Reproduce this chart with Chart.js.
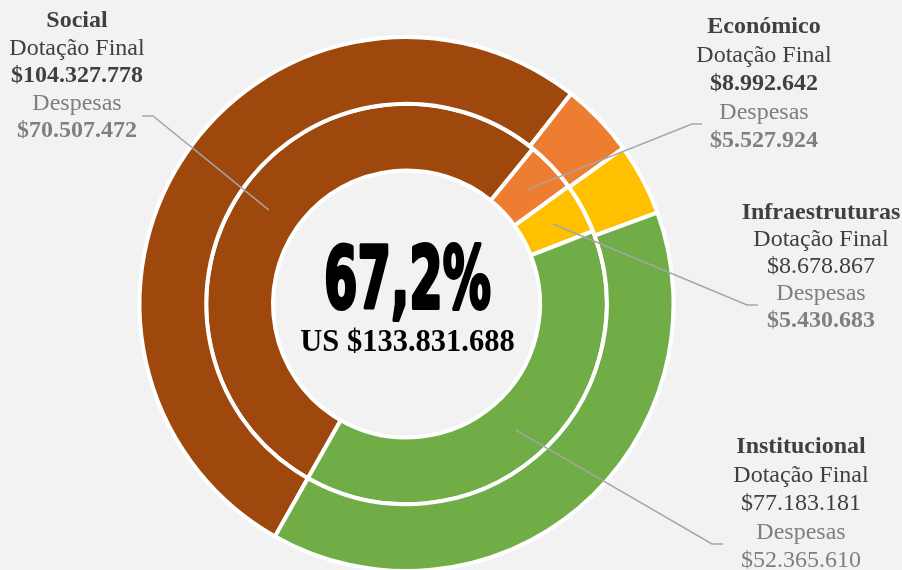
<!DOCTYPE html>
<html>
<head>
<meta charset="utf-8">
<script src="https://cdn.jsdelivr.net/npm/chart.js@4.4.1/dist/chart.umd.min.js"></script>
<style>
  html, body { margin: 0; padding: 0; background: #f2f2f2; overflow: hidden; }
  #wrap { width: 902px; height: 573px; }
</style>
</head>
<body>
<div id="wrap"><canvas id="c" width="902" height="573"></canvas></div>
<script>
  const categories = ['Social', 'Económico', 'Infraestruturas', 'Institucional'];
  const dotacaoFinal = [104327778, 8992642, 8678867, 77183181];
  const despesas = [70507472, 5527924, 5430683, 52365610];
  const totalDespesas = 133831688; // as printed in the centre (source rounding)
  const sliceColors = ['#9E480E', '#ED7D31', '#FFC000', '#70AD47'];

  // label blocks: center x, first baseline, leader bend + end, bold flags for the two values
  const labelLayout = [
    { x: 77,  y: 27,  lh: 27.5, bend: [153, 116], end: [142, 116], boldDot: true,  boldDesp: true },
    { x: 764, y: 33,  lh: 28.5, bend: [692, 124], end: [702, 124], boldDot: true,  boldDesp: true },
    { x: 821, y: 219, lh: 27,   bend: [747, 305], end: [758, 305], boldDot: false, boldDesp: true },
    { x: 801, y: 453, lh: 28.5, bend: [712, 544], end: [723, 544], boldDot: false, boldDesp: false }
  ];

  const sum = arr => arr.reduce((s, v) => s + v, 0);
  const money = n => '$' + String(n).replace(/\B(?=(\d{3})+(?!\d))/g, '.');

  const DARK = '#404040';
  const GRAY = '#7f7f7f';
  const SERIF = '"Liberation Serif", "Times New Roman", serif';

  const overlay = {
    id: 'overlay',
    afterDraw(chart){
      const ctx = chart.ctx;
      const first = chart.getDatasetMeta(0).data[0];
      const cx = first.x, cy = first.y;
      ctx.save();

      // leader lines from the inner ring (Despesas) slices
      const inner = chart.getDatasetMeta(1).data;
      ctx.strokeStyle = '#a6a6a6';
      ctx.lineWidth = 1.5;
      labelLayout.forEach((L, i) => {
        const p = inner[i].getCenterPoint();
        ctx.beginPath();
        ctx.moveTo(p.x, p.y);
        ctx.lineTo(L.bend[0], L.bend[1]);
        ctx.lineTo(L.end[0], L.end[1]);
        ctx.stroke();
      });

      // label text
      ctx.textAlign = 'center';
      ctx.textBaseline = 'alphabetic';
      labelLayout.forEach((L, i) => {
        const lines = [
          { t: categories[i], bold: true, c: DARK },
          { t: 'Dotação Final', bold: false, c: DARK },
          { t: money(dotacaoFinal[i]), bold: L.boldDot, c: DARK },
          { t: 'Despesas', bold: false, c: GRAY },
          { t: money(despesas[i]), bold: L.boldDesp, c: GRAY }
        ];
        lines.forEach((ln, k) => {
          ctx.font = (ln.bold ? 'bold ' : '') + '24px ' + SERIF;
          ctx.fillStyle = ln.c;
          ctx.fillText(ln.t, L.x, L.y + k * L.lh);
        });
      });

      // center: share spent + total spent
      const pct = sum(despesas) / sum(dotacaoFinal) * 100;
      const pctTxt = pct.toFixed(1).replace('.', ',') + '%';
      ctx.font = 'bold 86px "DejaVu Sans", sans-serif';
      const w = ctx.measureText(pctTxt).width;
      ctx.save();
      ctx.translate(cx + 1, cy + 4);
      ctx.scale(167 / w, 1);
      ctx.fillStyle = '#000';
      ctx.strokeStyle = '#000';
      ctx.lineWidth = 4;
      ctx.lineJoin = 'round';
      ctx.fillText(pctTxt, 0, 0);
      ctx.strokeText(pctTxt, 0, 0);
      ctx.restore();

      ctx.font = 'bold 30.5px ' + SERIF;
      ctx.fillStyle = '#000';
      ctx.fillText('US ' + money(totalDespesas), cx + 1, cy + 47);
      ctx.restore();
    }
  };

  new Chart(document.getElementById('c'), {
    type: 'doughnut',
    data: {
      labels: categories,
      datasets: [
        { label: 'Dotação Final', data: dotacaoFinal, backgroundColor: sliceColors, borderColor: '#ffffff', borderWidth: 4 },
        { label: 'Despesas', data: despesas, backgroundColor: sliceColors, borderColor: '#ffffff', borderWidth: 4 }
      ]
    },
    options: {
      responsive: false,
      devicePixelRatio: 1,
      animation: false,
      rotation: -150.5,
      cutout: '50%',
      layout: { padding: { top: 35, bottom: 0, left: 0, right: 89 } },
      plugins: {
        legend: { display: false },
        tooltip: { enabled: false }
      }
    },
    plugins: [overlay]
  });
</script>
</body>
</html>
